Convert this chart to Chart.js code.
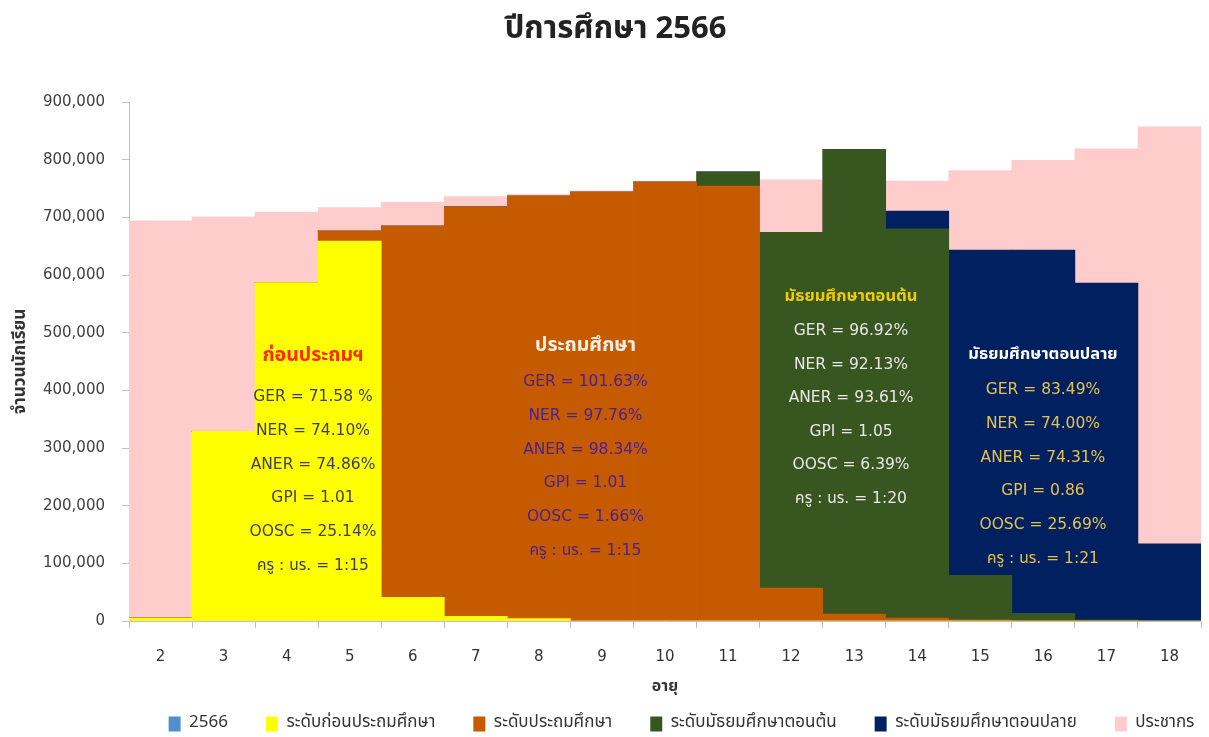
<!DOCTYPE html>
<html><head><meta charset="utf-8">
<script src="https://cdn.jsdelivr.net/npm/chart.js@4.4.1/dist/chart.umd.min.js"></script>
<style>html,body{margin:0;padding:0;background:#fff}#wrap{width:1209px;height:737px}</style>
</head><body><div id="wrap"><canvas id="c"></canvas></div>
<script>
// ---- data ----
const ages = ['2','3','4','5','6','7','8','9','10','11','12','13','14','15','16','17','18'];
const year2566 = [null,null,null,null,null,null,null,null,null,null,null,null,null,null,null,null,null];
const prePrimary = [5000,329000,587000,659000,41000,8000,4000,0,0,0,0,0,0,0,0,0,0];
const primary = [0,0,0,17000,644000,710000,733000,744000,761000,754000,57000,12000,5000,2000,1000,0,0];
const lowerSecondary = [0,0,0,0,0,0,0,0,0,25000,617000,806000,675000,77000,12000,2000,0];
const upperSecondary = [0,0,0,0,0,0,0,0,0,0,0,0,31000,564000,630000,584000,134000];
const population = [694000,701000,709000,717000,726000,736000,740000,746000,763000,767000,765000,766000,763000,781000,799000,819000,857000];
const seriesLabels = ['2566','ระดับก่อนประถมศึกษา','ระดับประถมศึกษา','ระดับมัธยมศึกษาตอนต้น','ระดับมัธยมศึกษาตอนปลาย','ประชากร'];
const yTicks = [0,100000,200000,300000,400000,500000,600000,700000,800000,900000];
// annotation texts
const noteTitles = ['ก่อนประถมฯ','ประถมศึกษา','มัธยมศึกษาตอนต้น','มัธยมศึกษาตอนปลาย'];
const noteLines = [
  ['GER = 71.58 %','NER = 74.10%','ANER = 74.86%','GPI = 1.01','OOSC = 25.14%','ครู : นร. = 1:15'],
  ['GER = 101.63%','NER = 97.76%','ANER = 98.34%','GPI = 1.01','OOSC = 1.66%','ครู : นร. = 1:15'],
  ['GER = 96.92%','NER = 92.13%','ANER = 93.61%','GPI = 1.05','OOSC = 6.39%','ครู : นร. = 1:20'],
  ['GER = 83.49%','NER = 74.00%','ANER = 74.31%','GPI = 0.86','OOSC = 25.69%','ครู : นร. = 1:21']
];
// ---- styling ----
const THAI = "'Noto Sans Thai','Noto Sans','DejaVu Sans',sans-serif";
const NUM = "'DejaVu Sans','Noto Sans Thai',sans-serif";
const colors = ['#4F8FCB','#FFFF00','#C55A00','#38561F','#002060','#FFCCCC'];
const notePos = [
  {xi:2.418, yv:458000, gap:40, step:33.8, ts:19.5, tc:'#FF2A00', lc:'#3E3E5E'},
  {xi:6.739, yv:475100, gap:35, step:33.8, ts:19.5, tc:'#FBEFE6', lc:'#4A2190'},
  {xi:10.95, yv:560100, gap:33, step:33.6, ts:16.5, tc:'#F2CC00', lc:'#E8E8E8'},
  {xi:13.994, yv:459500, gap:34, step:33.8, ts:16.5, tc:'#FFFFFF', lc:'#E6C24A'}
];
const LEGEND_SHIFT = 66;

const notesPlugin = {
  id:'notes',
  afterLayout(chart){
    // place legend row as in the reference (right of centre)
    if (chart.legend) { chart.legend.left += LEGEND_SHIFT; chart.legend.right += LEGEND_SHIFT; }
  },
  afterDatasetsDraw(chart){
    const {ctx, scales:{x,y}} = chart;
    ctx.save();
    ctx.textAlign='center'; ctx.textBaseline='middle';
    notePos.forEach((p,i)=>{
      const cx = x.getPixelForValue(p.xi);
      const ty = y.getPixelForValue(p.yv);
      ctx.font = "bold " + p.ts + "px " + THAI;
      ctx.fillStyle = p.tc;
      ctx.fillText(noteTitles[i], cx, ty);
      ctx.font = "15.5px " + NUM;
      ctx.fillStyle = p.lc;
      noteLines[i].forEach((t,j)=>{
        ctx.fillText(t, cx, ty + p.gap + j*p.step);
      });
    });
    ctx.restore();
  }
};

const dataSeries = [year2566, prePrimary, primary, lowerSecondary, upperSecondary, population];
const datasets = dataSeries.map((d,i)=>({
  label: seriesLabels[i],
  data: d,
  backgroundColor: colors[i],
  borderWidth: 0,
  barPercentage: 1,
  categoryPercentage: 1,
  grouped: false,
  stack: i === 5 ? 'pop' : 'edu'
}));

new Chart(document.getElementById('c'), {
  type:'bar',
  data:{labels: ages, datasets},
  options:{
    responsive:true, maintainAspectRatio:false, animation:false,
    layout:{padding:{left:30,right:8,top:0,bottom:0}},
    plugins:{
      tooltip:{enabled:false},
      title:{display:true, text:'ปีการศึกษา 2566', color:'#222',
        font:{family:THAI, size:31, weight:'bold'}, padding:{top:13,bottom:51.8}},
      legend:{position:'bottom', fullSize:true, maxHeight:59.5,
        labels:{boxWidth:12, boxHeight:15, padding:38, color:'#333', font:{family:THAI, size:17}}}
    },
    scales:{
      x:{stacked:true, offset:true,
        grid:{offset:true, drawOnChartArea:false, tickLength:7, color:'#BFBFBF'},
        border:{color:'#BFBFBF'},
        ticks:{padding:20, color:'#333', font:{family:NUM, size:15}},
        title:{display:true, text:'อายุ', color:'#333', font:{family:THAI, size:16, weight:'bold'}, padding:{top:0,bottom:-20.1}},
        afterFit(s){ s.height = 56.5; }
      },
      y:{stacked:true, min:0, max:900000,
        afterBuildTicks(s){ s.ticks = yTicks.map(v=>({value:v})); },
        grid:{drawOnChartArea:false, tickLength:7, color:'#BFBFBF'},
        border:{color:'#BFBFBF'},
        ticks:{padding:17, color:'#404040', font:{family:NUM, size:15},
          callback:v=>v.toLocaleString('en-US')},
        title:{display:true, text:'จำนวนนักเรียน', color:'#333', font:{family:THAI, size:17, weight:'bold'}, padding:{top:-18.2,bottom:0}},
        afterFit(s){ s.width = 99; }
      }
    }
  },
  plugins:[notesPlugin]
});
</script></body></html>
